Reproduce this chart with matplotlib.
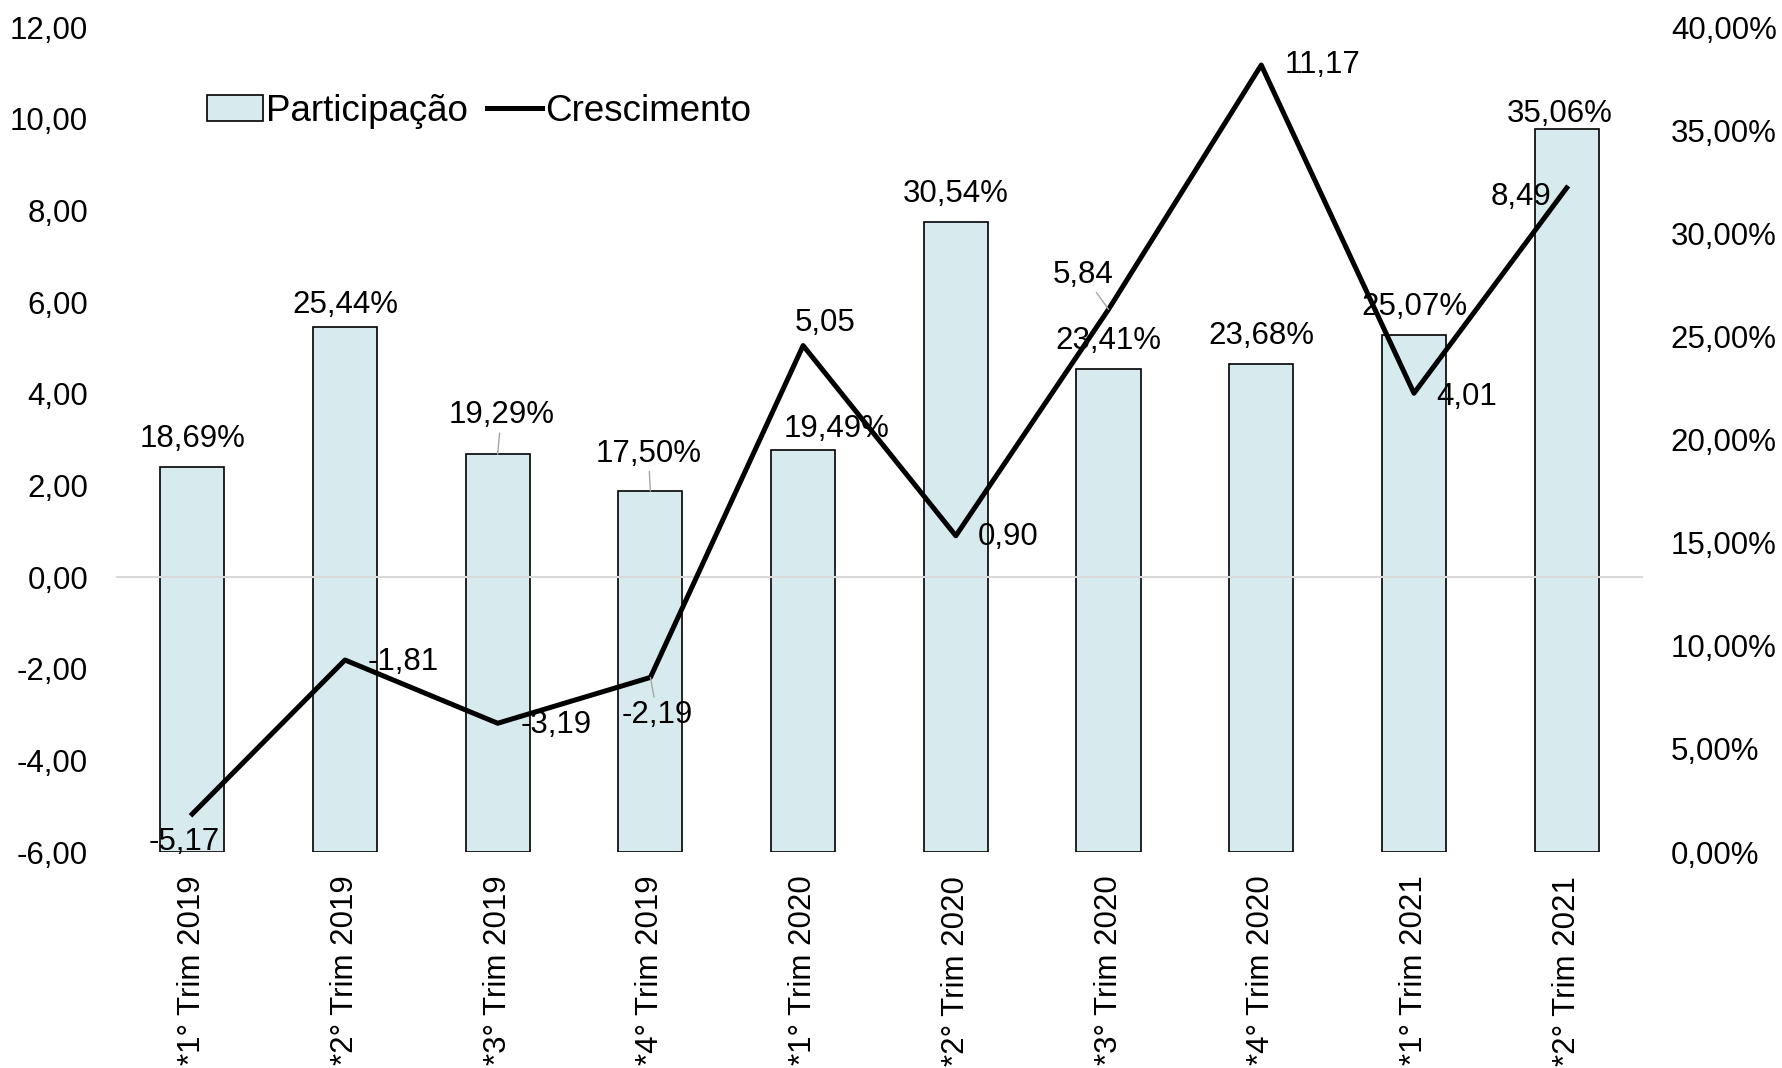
import matplotlib
matplotlib.use("Agg")
import matplotlib.pyplot as plt
from matplotlib.patches import Patch
from matplotlib.lines import Line2D
import numpy as np

plt.rcParams['font.family'] = ['Liberation Sans', 'DejaVu Sans']

trimestres = ['*1° Trim 2019', '*2° Trim 2019', '*3° Trim 2019', '*4° Trim 2019',
              '*1° Trim 2020', '*2° Trim 2020', '*3° Trim 2020', '*4° Trim 2020',
              '*1° Trim 2021', '*2° Trim 2021']
participacao = [18.69, 25.44, 19.29, 17.50, 19.49, 30.54, 23.41, 23.68, 25.07, 35.06]
crescimento = [-5.17, -1.81, -3.19, -2.19, 5.05, 0.90, 5.84, 11.17, 4.01, 8.49]

# label offsets in points (dx, dy) and whether a leader line is drawn
off_bar = [(0, 20), (0, 16), (2.5, 28), (-1.5, 27), (24, 15),
           (0, 20), (0, 20), (0, 20), (0, 20), (-5, 11)]
lead_bar = [False, False, True, True, False, False, False, False, False, False]
off_lin = [(-6, -20), (42, -1.5), (42, -1), (5, -27), (16, 16),
           (38, -1), (-18, 25), (44, 0), (38, -2.5), (-33, -6.5)]
lead_lin = [False, False, False, True, False, False, True, False, False, False]

def br(v, dec=2):
    return f"{v:.{dec}f}".replace('.', ',')

fs = 22.5
x = np.arange(len(trimestres))

fig = plt.figure(figsize=(17.83, 10.68), dpi=100)
ax1 = fig.add_axes([0.065, 0.2022, 0.8565, 0.7725])
ax2 = ax1.twinx()
ax1.set_zorder(ax2.get_zorder() + 1)
ax1.patch.set_visible(False)

# bars on the percentage axis (right)
ax2.bar(x, np.array(participacao) / 100, width=0.42, color='#d7ebee',
        edgecolor='black', linewidth=1.2)
ax2.set_ylim(0, 0.40)
ax2.set_yticks(np.arange(0, 0.401, 0.05))
ax2.set_yticklabels([br(v * 100) + '%' for v in np.arange(0, 0.401, 0.05)])

ax1.axhline(0, color='#d9d9d9', lw=1.5, zorder=1)
ax1.plot(x, crescimento, color='black', lw=3.6, zorder=3)
ax1.set_ylim(-6, 12)
ax1.set_xlim(-0.5, len(x) - 0.5)
ax1.set_yticks(np.arange(-6, 12.1, 2))
ax1.set_yticklabels([br(v) for v in np.arange(-6, 12.1, 2)])
ax1.set_xticks(x)
ax1.set_xticklabels(trimestres, rotation=90)

for a in (ax1, ax2):
    for s in a.spines.values():
        s.set_visible(False)
    a.tick_params(length=0, labelsize=fs)
ax1.tick_params(axis='y', pad=20)
ax2.tick_params(axis='y', pad=20)
ax1.tick_params(axis='x', pad=17)

leader = dict(arrowstyle='-', color='#a6a6a6', lw=1, shrinkA=0, shrinkB=0)

for i, v in enumerate(participacao):
    ax2.annotate(br(v) + '%', (i, v / 100), xytext=off_bar[i], textcoords='offset points',
                 ha='center', va='center', fontsize=fs,
                 arrowprops=leader if lead_bar[i] else None)

for i, v in enumerate(crescimento):
    ax1.annotate(br(v), (i, v), xytext=off_lin[i], textcoords='offset points',
                 ha='center', va='center', fontsize=fs, zorder=4,
                 arrowprops=leader if lead_lin[i] else None)

handles = [Patch(facecolor='#d7ebee', edgecolor='black', linewidth=1.2),
           Line2D([0], [0], color='black', lw=3.6)]
fig.legend(handles, ['Participação', 'Crescimento'], loc='center left',
           bbox_to_anchor=(0.106, 0.896), ncol=2, frameon=False, fontsize=26.5,
           handlelength=1.5, handletextpad=0.1, columnspacing=0.5, borderpad=0)

fig.savefig('out.png', dpi=100)
